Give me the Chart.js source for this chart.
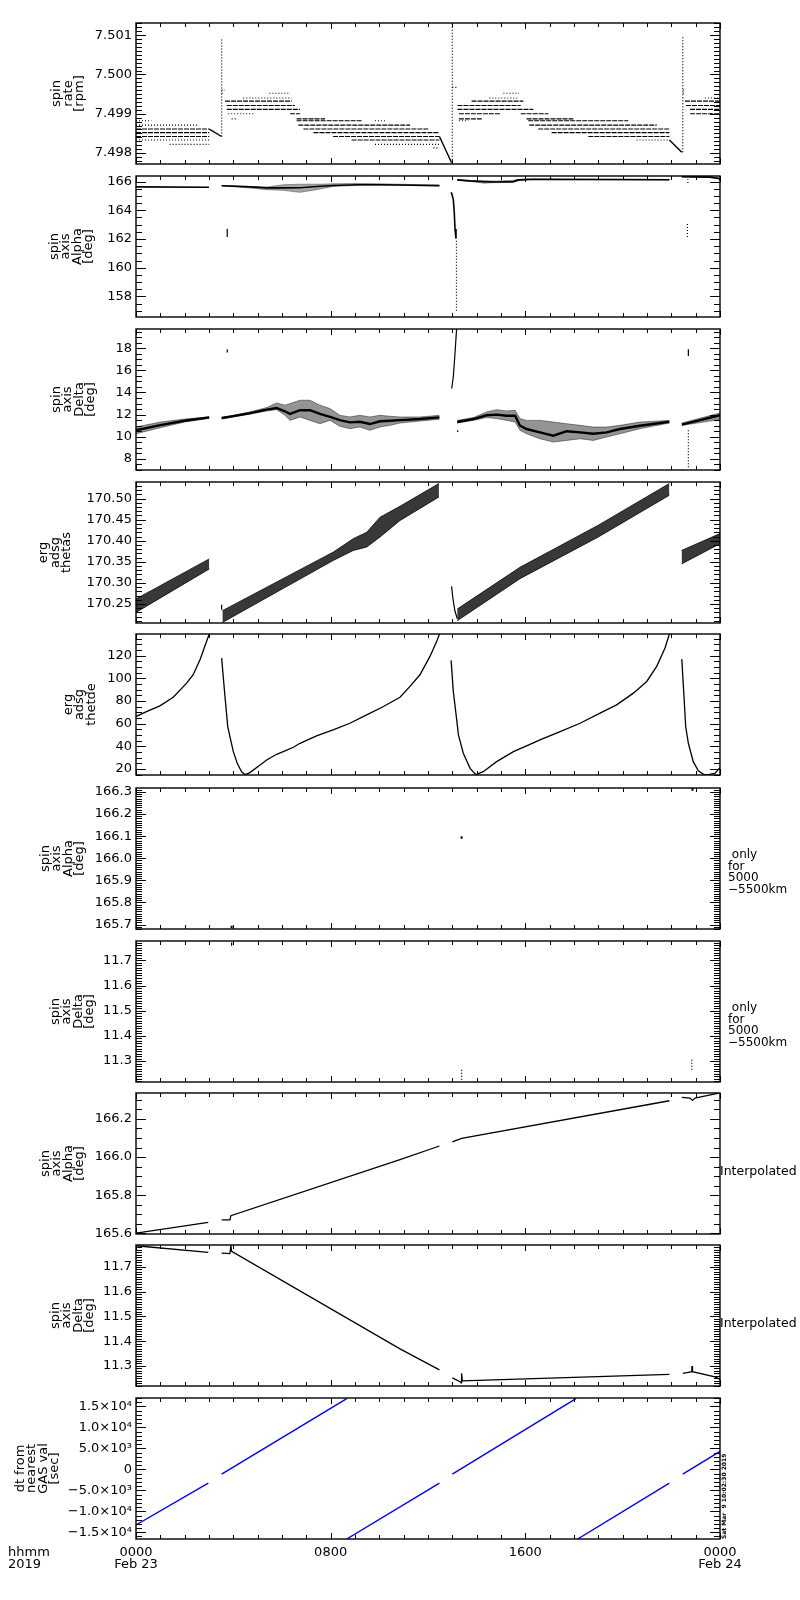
<!DOCTYPE html>
<html><head><meta charset="utf-8">
<script src="https://cdn.jsdelivr.net/npm/chart.js@4.4.1/dist/chart.umd.min.js"></script>
<style>html,body{margin:0;padding:0;background:#fff;width:800px;height:1600px;overflow:hidden;position:relative}</style>
</head><body>
<script>
// ---------------- DATA (x in hours from 2019-02-23 00:00) ----------------
const xTickValues = [0, 8, 16, 24];
const xTickLabels = [['0000','Feb 23'], ['0800'], ['1600'], ['0000','Feb 24']];

// Panel 1: spin rate [rpm] quantised bands [value, startHour, endHour]
const rateBandsDense = [
  [7.49861,0,3.01],[7.49852,0,3.01],[7.49842,0,3.01],
  [7.49932,3.66,6.40],[7.49921,3.73,6.53],[7.49911,3.73,6.74],
  [7.4990,6.33,6.74],[7.49887,6.60,7.77],[7.49882,6.60,9.27],
  [7.49871,6.67,11.26],[7.49861,6.88,12.01],[7.49852,7.29,12.47],[7.49842,8.10,12.47],[7.49833,8.86,12.47],
  [7.49921,13.21,15.81],[7.49911,13.21,16.33],[7.4990,13.27,14.96],[7.4990,15.81,16.95],
  [7.49887,13.27,14.21],[7.49887,16.05,17.97],[7.49932,13.79,15.92],
  [7.49882,16.12,20.23],[7.49871,16.16,21.40],[7.49861,16.53,21.92],[7.49852,17.08,21.92],[7.49842,18.59,21.92],
  [7.49932,22.56,24],[7.49921,22.60,24],[7.49911,22.77,24],[7.4990,22.77,24]
];
const rateBandsSparse = [
  [7.49882,0,0.63],[7.49871,0,2.56],[7.49833,0,3.01],[7.49822,1.38,3.01],
  [7.4996,3.52,3.66],[7.49952,3.52,3.60],[7.4990,3.79,4.89],[7.49887,3.93,4.13],
  [7.4994,4.41,6.40],[7.49952,5.48,6.26],
  [7.49882,9.82,10.23],[7.49822,9.82,12.47],[7.49813,12.22,12.47],
  [7.49967,13.0,13.21],[7.49882,13.27,13.66],[7.4994,14.52,15.74],[7.49952,15.10,15.74],[7.49833,20.57,21.92],
  [7.4996,22.47,22.56],[7.49952,22.47,22.56],[7.4994,23.38,24]
];
const rateRamps = [
  [[3.01,7.49861],[3.52,7.49842]],
  [[12.47,7.49842],[12.97,7.49775]],
  [[21.92,7.49833],[22.43,7.49802]]
];
const rateSpikes = [[3.52,7.49842,7.50092],[13.0,7.49775,7.5013],[22.47,7.49802,7.5010]];

// Panel 2: spin axis Alpha [deg]  envelope [hour, upper, lower] and core line
const alphaEnvelope = [
  [[3.52,165.73,165.69],[4.0,165.71,165.66],[4.68,165.66,165.55],[5.37,165.62,165.44],[6.05,165.78,165.39],
   [6.74,165.82,165.25],[7.42,165.82,165.44],[8.1,165.845,165.66],[9.19,165.87,165.75],[10.0,165.85,165.75],
   [10.85,165.82,165.74],[12.47,165.75,165.70]],
  [[13.2,166.14,166.10],[13.7,166.08,166.02],[14.3,166.05,165.89],[14.8,166.05,165.93],[15.5,166.08,165.93],
   [15.7,166.14,166.05],[16.3,166.18,166.14],[21.92,166.15,166.11]],
  [[22.43,166.36,166.32],[23.6,166.34,166.28],[23.95,166.30,166.19],[24.0,166.20,166.10]]
];
const alphaLines = [
  [[0,165.63],[3.0,165.61]],
  [[3.52,165.71],[4.68,165.63],[5.37,165.56],[6.05,165.56],[6.74,165.57],[7.42,165.66],[8.1,165.73],[9.19,165.78],
   [10.0,165.78],[10.85,165.76],[12.47,165.72]],
  [[12.93,165.2],[12.97,165.2],[13.04,164.75],[13.08,163.85],[13.11,162.7],[13.15,162.03]],
  [[13.2,166.12],[13.7,166.05],[14.3,166.0],[14.8,165.97],[15.5,166.0],[15.7,166.12],[16.3,166.16],[21.92,166.13]],
  [[22.43,166.34],[23.6,166.31],[23.95,166.22],[24,166.14]]
];
const alphaSpikes = [[3.75,162.14,162.71]];
const alphaDotted = [[13.17,157.0,162.03],[22.66,162.14,163.05],[22.68,165.9,166.16]];

// Panel 3: spin axis Delta [deg]
const deltaEnvelope = [
  [[0,10.88,10.27],[1.0,11.33,10.82],[2.0,11.6,11.33],[3.01,11.8,11.66]],
  [[3.52,11.73,11.61],[4.0,11.94,11.79],[4.68,12.24,12.03],[5.37,12.64,12.33],[5.78,13.06,12.45],[6.12,12.85,11.94],
   [6.33,13.0,11.48],[6.74,13.3,11.79],[7.15,13.3,11.48],[7.56,12.85,11.18],[7.97,12.55,11.48],[8.38,11.94,10.94],
   [8.79,11.79,10.73],[9.2,11.94,10.88],[9.61,11.79,10.58],[10.03,11.94,10.88],[10.44,11.85,11.03],[10.85,11.79,11.24],
   [11.67,11.79,11.42],[12.47,11.94,11.58]],
  [[13.2,11.48,11.24],[13.86,11.73,11.48],[14.41,12.24,11.73],[14.82,12.45,11.64],[15.23,12.33,11.48],[15.58,12.39,11.33],
   [15.78,11.64,10.58],[16.05,11.48,10.27],[16.6,11.48,9.82],[17.15,11.33,9.52],[17.7,11.18,9.67],[18.25,11.03,9.82],
   [18.79,10.88,9.67],[19.34,10.88,9.97],[19.89,11.03,10.27],[20.71,11.33,10.73],[21.92,11.48,11.24]],
  [[22.43,11.24,11.03],[24.0,12.15,11.55]]
];
const deltaCore = [
  [[0,10.58],[1.0,11.05],[2.0,11.45],[3.01,11.75]],
  [[3.52,11.69],[4.0,11.86],[4.68,12.13],[5.37,12.45],[5.78,12.6],[6.12,12.3],[6.33,12.06],[6.74,12.4],[7.15,12.4],
   [7.56,12.06],[7.97,11.8],[8.38,11.5],[8.79,11.3],[9.2,11.35],[9.61,11.15],[10.03,11.4],[10.44,11.45],[10.85,11.5],
   [11.67,11.6],[12.47,11.75]],
  [[13.2,11.33],[13.86,11.6],[14.41,11.94],[14.82,12.0],[15.23,11.9],[15.58,11.9],[15.78,11.0],[16.05,10.7],[16.6,10.4],
   [17.15,10.1],[17.7,10.5],[18.25,10.4],[18.79,10.27],[19.34,10.4],[19.89,10.7],[20.71,11.0],[21.92,11.36]],
  [[22.43,11.1],[24.0,11.94]]
];
const deltaLines = [[[12.975,14.36],[13.04,15.42],[13.11,17.54],[13.18,19.9]]];
const deltaSpikes = [[3.75,17.6,17.9],[13.22,10.42,10.58],[22.7,17.3,17.91]];
const deltaDotted = [[22.7,7.24,10.58]];

// Panel 4: erg adsg thetas
const thetasEnvelope = [
  [[0,170.262,170.230],[3.01,170.357,170.333]],
  [[3.55,170.234,170.206],[8.1,170.373,170.353],[8.93,170.405,170.377],[9.48,170.42,170.385],
   [10.03,170.456,170.409],[10.85,170.482,170.448],[12.45,170.536,170.504]],
  [[13.2,170.238,170.210],[15.78,170.337,170.310],[19.0,170.437,170.409],[21.92,170.536,170.508]],
  [[22.42,170.377,170.345],[24.0,170.417,170.393]]
];
const thetasLines = [[[12.97,170.292],[13.02,170.265],[13.1,170.235],[13.2,170.215]]];
const thetasSpikes = [[3.52,170.236,170.248]];

// Panel 5: erg adsg thetde
const thetdeSegs = [
  [[0,66.3],[0.43,70.7],[0.98,75.7],[1.53,83.4],[2.08,95.8],[2.35,103.2],[2.63,116.5],[2.83,128.3],[3.01,139.2]],
  [[3.52,117.9],[3.64,88],[3.77,57.5],[3.86,48.6],[4.0,35.3],[4.16,25],[4.34,17.6],[4.48,15.0],[4.68,16.8],[5.1,23.5],
   [5.37,28],[5.78,33],[6.05,35.3],[6.47,39.2],[6.74,42.7],[7.42,49.2],[8.1,54.5],[8.79,60.4],[9.48,67.8],[10.17,75.2],
   [10.85,83.4],[11.26,92.9],[11.67,103.2],[12.08,119.4],[12.36,132.7],[12.47,139.2]],
  [[12.95,115.9],[13.04,88.4],[13.18,63.4],[13.25,50.1],[13.45,33.9],[13.73,20.6],[13.97,15.0],[14.27,17.6],[14.82,26.5],
   [15.51,35.3],[16.05,40.4],[16.6,45.7],[17.43,53],[18.25,60.4],[19.07,69.3],[19.75,76.6],[20.44,87],[20.99,97.3],
   [21.4,110.6],[21.74,126.8],[21.92,139.2]],
  [[22.43,117.0],[22.52,84],[22.59,57.5],[22.7,42.7],[22.9,26.5],[23.11,18.5],[23.32,15.3],[23.52,15.0],[23.79,16.1],[24.0,21.2]]
];

// Panel 6 / 7: only for 5000-5500 km
const alphaOrbitMarks = [[13.38,166.088,166.10],[22.87,166.305,166.318],[3.93,165.683,165.695]];
const deltaOrbitMarks = [[3.93,11.758,11.771]];
const deltaOrbitDotted = [[13.38,11.226,11.272],[22.84,11.266,11.306]];

// Panel 8: interpolated Alpha
const alphaInterp = [
  [[0,165.602],[2.97,165.658]],
  [[3.52,165.671],[3.86,165.671],[3.9,165.693],[10.85,165.987],[12.47,166.058]],
  [[13.0,166.08],[13.38,166.098],[21.92,166.295]],
  [[22.43,166.313],[22.77,166.309],[22.87,166.297],[22.97,166.309],[24,166.336]]
];
// Panel 9: interpolated Delta
const deltaInterp = [
  [[0,11.786],[2.97,11.759]],
  [[3.52,11.756],[3.86,11.754],[3.9,11.786],[3.93,11.763],[10.85,11.369],[12.47,11.284]],
  [[13.0,11.252],[13.32,11.236],[13.36,11.232],[13.38,11.27],[13.41,11.24],[21.92,11.266]],
  [[22.47,11.27],[22.84,11.277],[22.85,11.30],[22.87,11.277],[23.79,11.256],[24,11.246]]
];
// Panel 10: dt from nearest GAS val [sec]
const dtSegs = [
  [[0,-13254],[2.97,-3295]],
  [[3.52,-1146],[8.66,16840]],
  [[8.66,-16600],[12.47,-3295]],
  [[13.0,-1146],[18.08,16840]],
  [[18.15,-16600],[21.92,-3295]],
  [[22.47,-1146],[24.0,4268]]
];
const dtTickValues = [-15000,-10000,-5000,0,5000,10000,15000];
const dtTickLabels = ['\u22121.5\u00d710\u2074','\u22121.0\u00d710\u2074','\u22125.0\u00d710\u00b3','0','5.0\u00d710\u00b3','1.0\u00d710\u2074','1.5\u00d710\u2074'];

// ---------------- BUILD ----------------
Chart.defaults.font.family = "'DejaVu Sans', sans-serif";
Chart.defaults.color = '#000';

const PANEL_TOPS = [23,176,329,482,634,788,941,1093,1245,1398];
const PANEL_H = 141;

function bandData(bands){const o=[];bands.forEach(([v,a,b])=>{o.push({x:a,y:v},{x:b,y:v},{x:b,y:null});});return o;}
function segData(segs){const o=[];segs.forEach(s=>{s.forEach(([h,v])=>o.push({x:h,y:v}));o.push({x:s[s.length-1][0],y:null});});return o;}
function spikeData(sp){const o=[];sp.forEach(([h,a,b])=>o.push({x:h,y:a},{x:h,y:b},{x:h,y:null}));return o;}
function lineDs(data,opt){return Object.assign({data,borderColor:'#000',borderWidth:1.2,pointRadius:0,pointHoverRadius:0,fill:false,tension:0,spanGaps:false,clip:0},opt||{});}
function envelopeDs(segs,color){const o=[];segs.forEach(s=>{
  o.push(lineDs(s.map(r=>({x:r[0],y:r[1]})),{borderColor:color,borderWidth:1}));
  o.push(lineDs(s.map(r=>({x:r[0],y:r[2]})),{borderColor:color,borderWidth:1,fill:'-1',backgroundColor:color}));
});return o;}
const DOT=[1,2];

const sideOnly = [{lines:[' only','for','5000','\u22125500km'],x:728,y:[67,78.5,90,101.5],size:12}];
const sideInterp = [{lines:['Interpolated'],x:720,y:[79],size:12.5}];

const panels = [
 {title:['spin','rate','[rpm]'],c1:57,min:7.49772,max:7.50131,major:0.001,minor:0.0001,fmt:v=>v.toFixed(3),
  ds:[lineDs(bandData(rateBandsDense),{borderWidth:1.1,borderDash:[5,1]}),
      lineDs(bandData(rateBandsSparse),{borderWidth:1.1,borderDash:DOT}),
      lineDs(segData(rateRamps),{borderWidth:1.4}),
      lineDs(spikeData(rateSpikes),{borderWidth:1.2,borderDash:DOT})]},
 {title:['spin','axis','Alpha','[deg]'],c1:54.5,min:156.57,max:166.39,major:2,minor:0.5,fmt:v=>v.toFixed(0),
  ds:[...envelopeDs(alphaEnvelope,'rgba(0,0,0,0.35)'),lineDs(segData(alphaLines),{borderWidth:1.6}),
      lineDs(spikeData(alphaSpikes)),lineDs(spikeData(alphaDotted),{borderDash:DOT})]},
 {title:['spin','axis','Delta','[deg]'],c1:56.5,min:7.0,max:19.73,major:2,minor:0.5,fmt:v=>v.toFixed(0),
  ds:[...envelopeDs(deltaEnvelope,'rgba(0,0,0,0.42)'),lineDs(segData(deltaCore),{borderWidth:2.4}),lineDs(segData(deltaLines)),
      lineDs(spikeData(deltaSpikes)),lineDs(spikeData(deltaDotted),{borderDash:DOT})]},
 {title:['erg','adsg','thetas'],c1:44,min:170.2048,max:170.5395,major:0.05,minor:0.01,fmt:v=>v.toFixed(2),
  ds:[...envelopeDs(thetasEnvelope,'rgba(0,0,0,0.78)'),lineDs(segData(thetasLines)),lineDs(spikeData(thetasSpikes))]},
 {title:['erg','adsg','thetde'],c1:68.5,min:14.7,max:139.2,major:20,minor:5,fmt:v=>v.toFixed(0),
  ds:[lineDs(segData(thetdeSegs),{borderWidth:1.3})]},
 {title:['spin','axis','Alpha','[deg]'],c1:45.5,min:165.680,max:166.318,major:0.1,minor:0.01,fmt:v=>v.toFixed(1),
  ds:[lineDs(spikeData(alphaOrbitMarks),{borderWidth:2})],side:sideOnly},
 {title:['spin','axis','Delta','[deg]'],c1:55.5,min:11.217,max:11.777,major:0.1,minor:0.01,fmt:v=>v.toFixed(1),
  ds:[lineDs(spikeData(deltaOrbitMarks),{borderWidth:1.3}),lineDs(spikeData(deltaOrbitDotted),{borderWidth:1.3,borderDash:DOT})],side:sideOnly},
 {title:['spin','axis','Alpha','[deg]'],c1:45.5,min:165.597,max:166.3356,major:0.2,minor:0.05,fmt:v=>v.toFixed(1),
  ds:[lineDs(segData(alphaInterp),{borderWidth:1.3})],side:sideInterp},
 {title:['spin','axis','Delta','[deg]'],c1:55.5,min:11.219,max:11.789,major:0.1,minor:0.01,fmt:v=>v.toFixed(1),
  ds:[lineDs(segData(deltaInterp),{borderWidth:1.3})],side:sideInterp},
 {title:['dt from','nearest','GAS val','[sec]'],c1:20.5,min:-16600,max:17006,major:5000,minor:1000,
  tickValues:dtTickValues,tickLabels:dtTickLabels,
  ds:[lineDs(segData(dtSegs),{borderColor:'#0000ff',borderWidth:1.4})],last:true}
];

const framePlugin = {
  id:'frame',
  afterDraw(chart, args, o){
    const {ctx, chartArea:a, scales:{x,y}} = chart;
    ctx.save();
    ctx.strokeStyle='#000';
    ctx.lineWidth=1;
    ctx.beginPath();
    for(let h=0;h<=24;h++){
      const px=Math.round(x.getPixelForValue(h))+0.5;
      const len=(h%8===0)?6:4;
      ctx.moveTo(px,a.bottom);ctx.lineTo(px,a.bottom-len);
      ctx.moveTo(px,a.top);ctx.lineTo(px,a.top+len);
    }
    const kMin=Math.ceil(y.min/o.minor-1e-6), kMax=Math.floor(y.max/o.minor+1e-6);
    const ratio=Math.round(o.major/o.minor);
    for(let k=kMin;k<=kMax;k++){
      const py=Math.round(y.getPixelForValue(k*o.minor))+0.5;
      const len=(k%ratio===0)?10:6;
      ctx.moveTo(a.left,py);ctx.lineTo(a.left+len,py);
      ctx.moveTo(a.right,py);ctx.lineTo(a.right-len,py);
    }
    ctx.stroke();
    ctx.lineWidth=1.4;
    ctx.strokeRect(a.left,a.top,a.right-a.left,a.bottom-a.top);
    ctx.fillStyle='#000';
    ctx.textBaseline='middle';ctx.textAlign='left';
    (o.side||[]).forEach(t=>{
      ctx.font=t.size+"px 'DejaVu Sans'";
      t.lines.forEach((s,i)=>ctx.fillText(s,t.x,a.top+t.y[i]));
    });
    if(o.last){
      ctx.font="13px 'DejaVu Sans'";
      ctx.fillText('hhmm',8,a.top+155);
      ctx.fillText('2019',8,a.top+167);
      ctx.save();
      ctx.translate(724,a.bottom);
      ctx.rotate(-Math.PI/2);
      ctx.font="bold 6px 'DejaVu Sans'";
      ctx.fillText('Sat Mar  9 10:02:30 2019',0,0);
      ctx.restore();
    }
    ctx.restore();
  }
};

panels.forEach((p,i)=>{
  const top=PANEL_TOPS[i];
  const padT=12, padB=p.last?0:12, xH=p.last?50:0;
  const H=padT+PANEL_H+padB+xH;
  const cv=document.createElement('canvas');
  cv.width=800;cv.height=H;
  cv.style.cssText=`position:absolute;left:0;top:${top-padT}px;width:800px;height:${H}px`;
  document.body.appendChild(cv);
  const xScale={type:'linear',min:0,max:24,display:!!p.last,
    grid:{display:false,drawTicks:false},border:{display:false}};
  if(p.last){
    xScale.afterFit=s=>{s.height=xH;};
    xScale.afterBuildTicks=s=>{s.ticks=xTickValues.map(v=>({value:v}));};
    xScale.ticks={autoSkip:false,maxRotation:0,minRotation:0,padding:8,color:'#000',
      font:{size:13,lineHeight:'12px'},
      callback:v=>{const k=xTickValues.indexOf(v);return k>=0?xTickLabels[k]:'';}};
  }
  const yScale={type:'linear',min:p.min,max:p.max,
    afterFit:s=>{s.width=136;},
    grid:{display:false,drawTicks:false},border:{display:false},
    ticks:{stepSize:p.major,includeBounds:false,autoSkip:false,padding:4,color:'#000',font:{size:13}},
    title:{display:true,text:p.title,color:'#000',font:{size:13,lineHeight:'11.5px'},
      padding:{top:p.c1-5.75,bottom:0}}};
  if(p.tickValues){
    yScale.afterBuildTicks=s=>{s.ticks=p.tickValues.map(v=>({value:v}));};
    yScale.ticks.callback=(v,idx)=>{const k=p.tickValues.indexOf(Math.round(v));return k>=0?p.tickLabels[k]:'';};
  } else {
    yScale.ticks.callback=v=>p.fmt(v);
  }
  new Chart(cv,{
    type:'line',
    data:{datasets:p.ds},
    options:{
      responsive:false,animation:false,devicePixelRatio:1,
      events:[],
      layout:{padding:{left:0,right:80,top:padT,bottom:padB}},
      plugins:{legend:{display:false},tooltip:{enabled:false},
        frame:{major:p.major,minor:p.minor,side:p.side,last:p.last}},
      scales:{x:xScale,y:yScale}
    },
    plugins:[framePlugin]
  });
});
</script>
</body></html>
